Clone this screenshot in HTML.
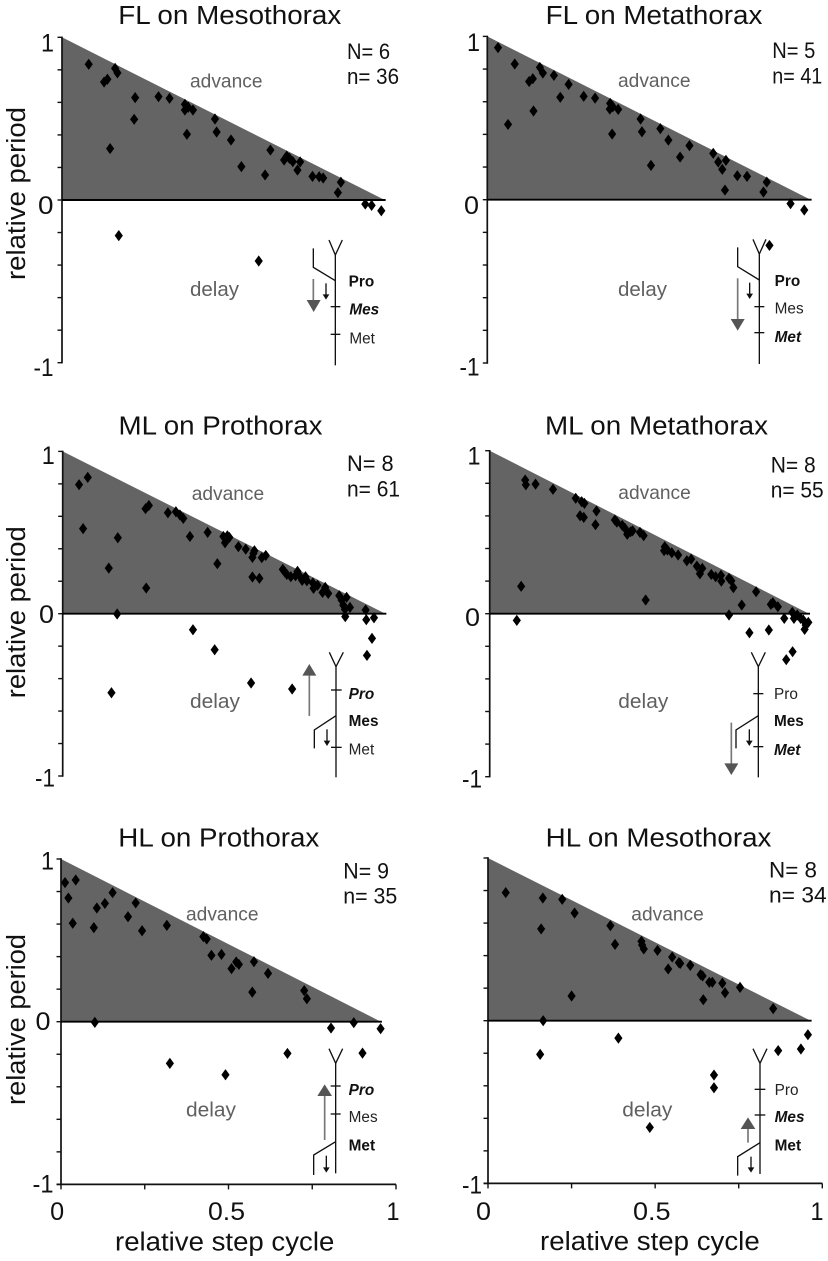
<!DOCTYPE html>
<html lang="en">
<head>
<meta charset="utf-8">
<title>Relative period versus relative step cycle</title>
<style>
html,body{margin:0;padding:0;background:#fff}
svg{display:block}
text{font-family:"Liberation Sans",Arial,sans-serif;fill:#111}
.ttl{font-size:25.5px}
.lab{font-size:25.5px}
.tick{font-size:25px}
.stat{font-size:22.5px}
.adv{font-size:19.5px;fill:#606060}
.dly{font-size:20.5px;fill:#606060}
.seg{font-size:46px;fill:#222}
.b{font-weight:bold;fill:#111}
.bi{font-weight:bold;font-style:italic;fill:#111}
.nv line,.nv polyline{stroke:#111;stroke-width:4;fill:none}
.ga line{stroke:#777;stroke-width:5}
.ga polygon{fill:#555}
</style>
</head>
<body>
<svg id="figure" xmlns="http://www.w3.org/2000/svg" width="828" height="1261" viewBox="0 0 828 1261">
<rect x="0" y="0" width="828" height="1261" fill="#fff"/>

<g id="p1">
  <g class="marks-host"></g>
  <text class="ttl" x="118.3" y="24" textLength="223" lengthAdjust="spacingAndGlyphs">FL on Mesothorax</text>
  <text class="stat" x="347" y="59" textLength="43" lengthAdjust="spacingAndGlyphs">N= 6</text>
  <text class="stat" x="347" y="84" textLength="52" lengthAdjust="spacingAndGlyphs">n= 36</text>
  <text class="adv" x="190" y="87.3" textLength="72.5" lengthAdjust="spacingAndGlyphs">advance</text>
  <text class="dly" x="190" y="296" textLength="49" lengthAdjust="spacingAndGlyphs">delay</text>
  <text class="tick" x="41" y="51.5" textLength="13" lengthAdjust="spacingAndGlyphs">1</text>
  <text class="tick" x="38" y="214" textLength="15.5" lengthAdjust="spacingAndGlyphs">0</text>
  <text class="tick" x="33.5" y="376" textLength="20" lengthAdjust="spacingAndGlyphs">-1</text>
  <text class="lab" transform="translate(25,280) rotate(-90)" textLength="173" lengthAdjust="spacingAndGlyphs">relative period</text>
  <g transform="scale(0.33333)">
    <g class="nv">
      <line x1="1006" y1="765" x2="1006" y2="1096"/><polyline points="987,720 1006,765 1027,720"/>
      <line x1="992" y1="920" x2="1021" y2="920"/><line x1="992" y1="1003" x2="1021" y2="1003"/>
      <polyline points="940,745 940,802 1006,842"/>
      <line x1="978" y1="850" x2="978" y2="885"/><polygon points="968,883 988,883 978,899" fill="#111"/>
    </g>
    <g class="ga"><line x1="940" y1="837" x2="940" y2="905"/><polygon points="920,900 962,900 941,936"/></g>
    <text class="seg b" x="1046" y="860">Pro</text>
    <text class="seg bi" x="1048" y="943">Mes</text>
    <text class="seg" x="1048" y="1030">Met</text>
  </g>
</g>

<g id="p2">
  <g class="marks-host"></g>
  <text class="ttl" x="545.7" y="24" textLength="216.7" lengthAdjust="spacingAndGlyphs">FL on Metathorax</text>
  <text class="stat" x="772.3" y="58" textLength="43" lengthAdjust="spacingAndGlyphs">N= 5</text>
  <text class="stat" x="772.3" y="83.3" textLength="50" lengthAdjust="spacingAndGlyphs">n= 41</text>
  <text class="adv" x="618" y="87" textLength="72.5" lengthAdjust="spacingAndGlyphs">advance</text>
  <text class="dly" x="618" y="296" textLength="49" lengthAdjust="spacingAndGlyphs">delay</text>
  <text class="tick" x="467" y="51" textLength="13" lengthAdjust="spacingAndGlyphs">1</text>
  <text class="tick" x="464" y="214" textLength="15" lengthAdjust="spacingAndGlyphs">0</text>
  <text class="tick" x="459.5" y="375.7" textLength="20" lengthAdjust="spacingAndGlyphs">-1</text>
  <g transform="translate(414,0) scale(0.33333)">
    <g class="nv">
      <line x1="1036" y1="762" x2="1036" y2="1092"/><polyline points="1017,718 1036,762 1056,718"/>
      <line x1="1021" y1="920" x2="1051" y2="920"/><line x1="1021" y1="998" x2="1051" y2="998"/>
      <polyline points="971,742 971,800 1036,840"/>
      <line x1="1007" y1="848" x2="1007" y2="883"/><polygon points="997,881 1017,881 1007,897" fill="#111"/>
    </g>
    <g class="ga"><line x1="971" y1="835" x2="971" y2="962"/><polygon points="950,957 992,957 971,992"/></g>
    <text class="seg b" x="1082" y="858">Pro</text>
    <text class="seg" x="1082" y="941">Mes</text>
    <text class="seg bi" x="1082" y="1026">Met</text>
  </g>
</g>

<g id="p3">
  <g class="marks-host"></g>
  <text class="ttl" x="118.5" y="434.3" textLength="204" lengthAdjust="spacingAndGlyphs">ML on Prothorax</text>
  <text class="stat" x="347" y="471" textLength="46.7" lengthAdjust="spacingAndGlyphs">N= 8</text>
  <text class="stat" x="347" y="496.7" textLength="53" lengthAdjust="spacingAndGlyphs">n= 61</text>
  <text class="adv" x="191.7" y="500" textLength="72.5" lengthAdjust="spacingAndGlyphs">advance</text>
  <text class="dly" x="190" y="708" textLength="50" lengthAdjust="spacingAndGlyphs">delay</text>
  <text class="tick" x="41.7" y="464" textLength="13" lengthAdjust="spacingAndGlyphs">1</text>
  <text class="tick" x="39" y="623" textLength="15" lengthAdjust="spacingAndGlyphs">0</text>
  <text class="tick" x="35" y="786.7" textLength="20" lengthAdjust="spacingAndGlyphs">-1</text>
  <text class="lab" transform="translate(25,698.3) rotate(-90)" textLength="172" lengthAdjust="spacingAndGlyphs">relative period</text>
  <g transform="translate(0,400) scale(0.33333)">
    <g class="nv">
      <line x1="1008" y1="800" x2="1008" y2="1132"/><polyline points="988,757 1008,800 1030,757"/>
      <line x1="993" y1="870" x2="1025" y2="870"/><line x1="993" y1="1042" x2="1025" y2="1042"/>
      <polyline points="943,1045 943,990 1008,947"/>
      <line x1="981" y1="988" x2="981" y2="1024"/><polygon points="971,1022 991,1022 981,1038" fill="#111"/>
    </g>
    <g class="ga"><line x1="928" y1="948" x2="928" y2="822"/><polygon points="907,827 949,827 928,792"/></g>
    <text class="seg bi" x="1046" y="897">Pro</text>
    <text class="seg b" x="1046" y="978">Mes</text>
    <text class="seg" x="1046" y="1064">Met</text>
  </g>
</g>

<g id="p4">
  <g class="marks-host"></g>
  <text class="ttl" x="545" y="434.3" textLength="223" lengthAdjust="spacingAndGlyphs">ML on Metathorax</text>
  <text class="stat" x="770.7" y="472.3" textLength="45" lengthAdjust="spacingAndGlyphs">N= 8</text>
  <text class="stat" x="770.7" y="497.7" textLength="53" lengthAdjust="spacingAndGlyphs">n= 55</text>
  <text class="adv" x="618.3" y="499" textLength="72.5" lengthAdjust="spacingAndGlyphs">advance</text>
  <text class="dly" x="618.3" y="708" textLength="50" lengthAdjust="spacingAndGlyphs">delay</text>
  <text class="tick" x="467.5" y="464.3" textLength="13" lengthAdjust="spacingAndGlyphs">1</text>
  <text class="tick" x="465" y="626" textLength="15" lengthAdjust="spacingAndGlyphs">0</text>
  <text class="tick" x="462" y="787.7" textLength="20" lengthAdjust="spacingAndGlyphs">-1</text>
  <g transform="translate(414,400) scale(0.33333)">
    <g class="nv">
      <line x1="1033" y1="800" x2="1033" y2="1132"/><polyline points="1012,757 1033,800 1054,757"/>
      <line x1="1018" y1="881" x2="1048" y2="881"/><line x1="1018" y1="1040" x2="1048" y2="1040"/>
      <polyline points="966,1045 966,990 1033,947"/>
      <line x1="1006" y1="988" x2="1006" y2="1024"/><polygon points="996,1022 1016,1022 1006,1038" fill="#111"/>
    </g>
    <g class="ga"><line x1="952" y1="968" x2="952" y2="1095"/><polygon points="931,1090 973,1090 952,1125"/></g>
    <text class="seg" x="1080" y="897">Pro</text>
    <text class="seg b" x="1080" y="978">Mes</text>
    <text class="seg bi" x="1080" y="1065">Met</text>
  </g>
</g>

<g id="p5">
  <g class="marks-host"></g>
  <text class="ttl" x="118.3" y="846.7" textLength="201" lengthAdjust="spacingAndGlyphs">HL on Prothorax</text>
  <text class="stat" x="343.3" y="878.3" textLength="45.7" lengthAdjust="spacingAndGlyphs">N= 9</text>
  <text class="stat" x="343.3" y="903.3" textLength="54" lengthAdjust="spacingAndGlyphs">n= 35</text>
  <text class="adv" x="186" y="920.7" textLength="72.5" lengthAdjust="spacingAndGlyphs">advance</text>
  <text class="dly" x="186" y="1116.7" textLength="50" lengthAdjust="spacingAndGlyphs">delay</text>
  <text class="tick" x="41" y="869.3" textLength="13" lengthAdjust="spacingAndGlyphs">1</text>
  <text class="tick" x="35.5" y="1030" textLength="15" lengthAdjust="spacingAndGlyphs">0</text>
  <text class="tick" x="32.5" y="1192.3" textLength="21" lengthAdjust="spacingAndGlyphs">-1</text>
  <text class="tick" x="50.2" y="1220" textLength="14" lengthAdjust="spacingAndGlyphs">0</text>
  <text class="tick" x="208" y="1220" textLength="37" lengthAdjust="spacingAndGlyphs">0.5</text>
  <text class="tick" x="386.5" y="1220" textLength="13" lengthAdjust="spacingAndGlyphs">1</text>
  <text class="lab" x="115" y="1250.7" textLength="219.3" lengthAdjust="spacingAndGlyphs">relative step cycle</text>
  <text class="lab" transform="translate(25,1105) rotate(-90)" textLength="171" lengthAdjust="spacingAndGlyphs">relative period</text>
  <g transform="translate(0,810) scale(0.33333)">
    <g class="nv">
      <line x1="1007" y1="760" x2="1007" y2="1090"/><polyline points="987,716 1007,760 1028,716"/>
      <line x1="992" y1="828" x2="1022" y2="828"/><line x1="992" y1="912" x2="1022" y2="912"/>
      <polyline points="941,1095 941,1035 1007,995"/>
      <line x1="979" y1="1037" x2="979" y2="1074"/><polygon points="969,1072 989,1072 979,1088" fill="#111"/>
    </g>
    <g class="ga"><line x1="974" y1="990" x2="974" y2="852"/><polygon points="952,858 996,858 974,823"/></g>
    <text class="seg bi" x="1046" y="855">Pro</text>
    <text class="seg" x="1046" y="936">Mes</text>
    <text class="seg b" x="1046" y="1022">Met</text>
  </g>
</g>

<g id="p6">
  <g class="marks-host"></g>
  <text class="ttl" x="545.7" y="846.7" textLength="225.7" lengthAdjust="spacingAndGlyphs">HL on Mesothorax</text>
  <text class="stat" x="769" y="877.7" textLength="48" lengthAdjust="spacingAndGlyphs">N= 8</text>
  <text class="stat" x="769" y="902.7" textLength="57.7" lengthAdjust="spacingAndGlyphs">n= 34</text>
  <text class="adv" x="631.3" y="920.7" textLength="72.5" lengthAdjust="spacingAndGlyphs">advance</text>
  <text class="dly" x="622.3" y="1116.7" textLength="50" lengthAdjust="spacingAndGlyphs">delay</text>
  <text class="tick" x="462" y="1193.3" textLength="20" lengthAdjust="spacingAndGlyphs">-1</text>
  <text class="tick" x="476" y="1220" textLength="15" lengthAdjust="spacingAndGlyphs">0</text>
  <text class="tick" x="633" y="1220" textLength="37.6" lengthAdjust="spacingAndGlyphs">0.5</text>
  <text class="tick" x="810.5" y="1220" textLength="13" lengthAdjust="spacingAndGlyphs">1</text>
  <text class="lab" x="540" y="1250" textLength="219.7" lengthAdjust="spacingAndGlyphs">relative step cycle</text>
  <g transform="translate(414,810) scale(0.33333)">
    <g class="nv">
      <line x1="1038" y1="760" x2="1038" y2="1092"/><polyline points="1017,716 1038,760 1059,716"/>
      <line x1="1022" y1="838" x2="1054" y2="838"/><line x1="1022" y1="915" x2="1054" y2="915"/>
      <polyline points="971,1097 971,1040 1038,998"/>
      <line x1="1011" y1="1040" x2="1011" y2="1074"/><polygon points="1001,1072 1021,1072 1011,1088" fill="#111"/>
    </g>
    <g class="ga"><line x1="1002" y1="998" x2="1002" y2="950"/><polygon points="980,957 1024,957 1002,922"/></g>
    <text class="seg" x="1082" y="855">Pro</text>
    <text class="seg bi" x="1082" y="936">Mes</text>
    <text class="seg b" x="1082" y="1022">Met</text>
  </g>
</g>
</svg>

<script>
const yTicks = [1, 0.8, 0.6, 0.4, 0.2, 0, -0.2, -0.4, -0.6, -0.8, -1];
const xTicks = [0, 0.25, 0.5, 0.75, 1];

const flMesoCycle = [.080,.126,.136,.159,.166,.219,.216,.144,.170,.289,.322,.368,.368,.378,.392,.374,.458,.463,.506,.537,.624,.608,.665,.673,.681,.691,.705,.713,.750,.770,.782,.826,.835,.908,.927,.956,.589];
const flMesoPeriod = [.834,.725,.742,.809,.781,.629,.496,.316,-.219,.635,.625,.588,.553,.570,.553,.404,.498,.418,.369,.205,.307,.154,.246,.270,.256,.236,.184,.234,.145,.143,.135,.045,.109,-.025,-.033,-.066,-.375];

const flMetaCycle = [.032,.082,.062,.125,.136,.138,.157,.166,.199,.218,.243,.288,.322,.367,.366,.375,.391,.373,.458,.462,.517,.541,.604,.576,.489,.675,.690,.713,.702,.710,.747,.776,.825,.835,.906,.947,.843];
const flMetaPeriod = [.931,.831,.461,.724,.741,.543,.810,.776,.761,.627,.706,.633,.622,.590,.555,.569,.553,.402,.494,.416,.435,.365,.331,.261,.210,.284,.231,.241,.186,.059,.147,.143,.047,.108,-.024,-.063,-.280];

const mlProCycle = [.049,.075,.061,.165,.138,.146,.163,.250,.248,.258,.315,.339,.351,.361,.381,.434,.463,.481,.493,.486,.499,.526,.548,.571,.568,.574,.568,.589,.596,.608,.659,.665,.671,.683,.697,.703,.711,.717,.727,.731,.749,.751,.763,.778,.786,.795,.828,.835,.850,.840,.845,.860,.846,.907,.909,.932,.926,.911,.390,.455,.564,.687];
const mlProPeriod = [.795,.840,.524,.468,.281,-.487,-.002,.158,.647,.667,.622,.628,.608,.587,.476,.501,.308,.476,.480,.437,.470,.413,.398,.372,.347,.388,.226,.218,.345,.359,.273,.257,.242,.228,.234,.261,.228,.205,.228,.203,.189,.156,.175,.131,.162,.125,.111,.084,.101,.053,.027,.039,-.018,.023,-.037,-.025,-.152,-.257,-.099,-.222,-.427,-.464];

const mlMetaCycle = [.106,.108,.137,.189,.257,.275,.283,.270,.281,.319,.316,.374,.380,.396,.404,.411,.421,.427,.449,.460,.523,.521,.531,.544,.563,.589,.602,.619,.635,.628,.662,.675,.691,.692,.715,.722,.728,.796,.753,.715,.466,.094,.081,.776,.834,.840,.846,.861,.880,.904,.909,.919,.929,.937,.952,.944,.941,.905,.886];
const mlMetaPeriod = [.820,.791,.795,.763,.708,.687,.677,.601,.591,.630,.546,.575,.562,.542,.524,.487,.503,.509,.499,.479,.411,.387,.391,.374,.360,.325,.335,.292,.278,.245,.241,.227,.235,.200,.217,.202,.160,.135,.053,-.008,.084,.168,-.041,-.117,-.100,.057,.067,.043,-.029,.008,-.029,-.008,-.029,-.039,-.053,-.070,-.096,-.233,-.282];

const hlProCycle = [.012,.044,.022,.035,.098,.107,.131,.154,.200,.223,.242,.316,.101,.425,.435,.449,.479,.509,.523,.531,.576,.618,.571,.726,.734,.806,.874,.954,.900,.676,.325,.491];
const hlProPeriod = [.855,.871,.760,.605,.578,.699,.727,.793,.645,.730,.559,.592,-.004,.523,.508,.408,.414,.326,.367,.352,.369,.297,.182,.191,.141,-.039,-.006,-.043,-.193,-.195,-.256,-.326];

const hlMesoCycle = [.053,.164,.222,.259,.159,.366,.380,.459,.461,.466,.507,.551,.571,.575,.539,.605,.636,.642,.662,.671,.701,.709,.754,.644,.250,.853,.165,.156,.390,.676,.676,.484,.868,.936,.957];
const hlMesoPeriod = [.787,.754,.746,.662,.564,.584,.469,.488,.465,.441,.432,.391,.357,.352,.318,.340,.283,.275,.236,.236,.230,.172,.205,.129,.152,.074,0,-.207,-.107,-.334,-.412,-.656,-.184,-.174,-.086];

const SVGNS = 'http://www.w3.org/2000/svg';

function makeAxisX(panel) { return function (v) { return panel.x0 + v * panel.xUnit; }; }
function makeAxisY(panel) { return function (v) { return panel.y0 - v * panel.yUnit; }; }

function shape(tag, attrs, parent) {
  const el = document.createElementNS(SVGNS, tag);
  for (const k in attrs) { el.setAttribute(k, attrs[k]); }
  parent.appendChild(el);
  return el;
}

function drawPanel(panel, cycle, period) {
  const sx = makeAxisX(panel);
  const sy = makeAxisY(panel);
  const host = document.querySelector('#' + panel.id + ' .marks-host');

  const region = shape('polygon', {
    points: sx(0) + ',' + sy(1) + ' ' + sx(panel.zeroEnd) + ',' + sy(0) + ' ' + sx(0) + ',' + sy(0),
    fill: '#646464'
  }, host);
  
  

  const yAxis = shape('line', { x1: sx(0), y1: sy(1) - 0.7, x2: sx(0), y2: sy(-1) + 0.7, stroke: '#111', 'stroke-width': 1.7 }, host);
  
  

  yTicks.forEach(function (t) {
    const tick = shape('line', { x1: sx(0) - 4.5, y1: sy(t), x2: sx(0), y2: sy(t), stroke: '#111', 'stroke-width': 1.4 }, host);
    
    
  });

  const zero = shape('line', { x1: sx(0), y1: sy(0), x2: sx(panel.zeroEnd) + 1, y2: sy(0), stroke: '#000', 'stroke-width': 1.9 }, host);
  
  

  if (panel.showX) {
    const xAxis = shape('line', { x1: sx(0) - 4.5, y1: sy(-1), x2: sx(1), y2: sy(-1), stroke: '#111', 'stroke-width': 1.7 }, host);
    
    
    xTicks.forEach(function (t) {
      const tick = shape('line', { x1: sx(t), y1: sy(-1), x2: sx(t), y2: sy(-1) + 5, stroke: '#111', 'stroke-width': 1.4 }, host);
      
      
    });
  }

  cycle.forEach(function (c, i) {
    const px = sx(c);
    const py = sy(period[i]);
    const dot = shape('polygon', {
      points: px + ',' + (py - 5.6) + ' ' + (px + 4.1) + ',' + py + ' ' + px + ',' + (py + 5.6) + ' ' + (px - 4.1) + ',' + py,
      fill: '#000'
    }, host);
    
    
  });
}

drawPanel({ id: 'p1', x0: 62, xUnit: 334, y0: 200, yUnit: 162.7, zeroEnd: 0.966, showX: false }, flMesoCycle, flMesoPeriod);
drawPanel({ id: 'p2', x0: 487.3, xUnit: 334.7, y0: 199.7, yUnit: 163.3, zeroEnd: 0.966, showX: false }, flMetaCycle, flMetaPeriod);
drawPanel({ id: 'p3', x0: 62.7, xUnit: 334, y0: 613.7, yUnit: 162.3, zeroEnd: 0.966, showX: false }, mlProCycle, mlProPeriod);
drawPanel({ id: 'p4', x0: 489.7, xUnit: 334.7, y0: 613.7, yUnit: 163, zeroEnd: 0.954, showX: false }, mlMetaCycle, mlMetaPeriod);
drawPanel({ id: 'p5', x0: 61, xUnit: 335, y0: 1021.7, yUnit: 162.7, zeroEnd: 0.955, showX: true }, hlProCycle, hlProPeriod);
drawPanel({ id: 'p6', x0: 488, xUnit: 334.3, y0: 1020.7, yUnit: 162.7, zeroEnd: 0.965, showX: true }, hlMesoCycle, hlMesoPeriod);
</script>
</body>
</html>
